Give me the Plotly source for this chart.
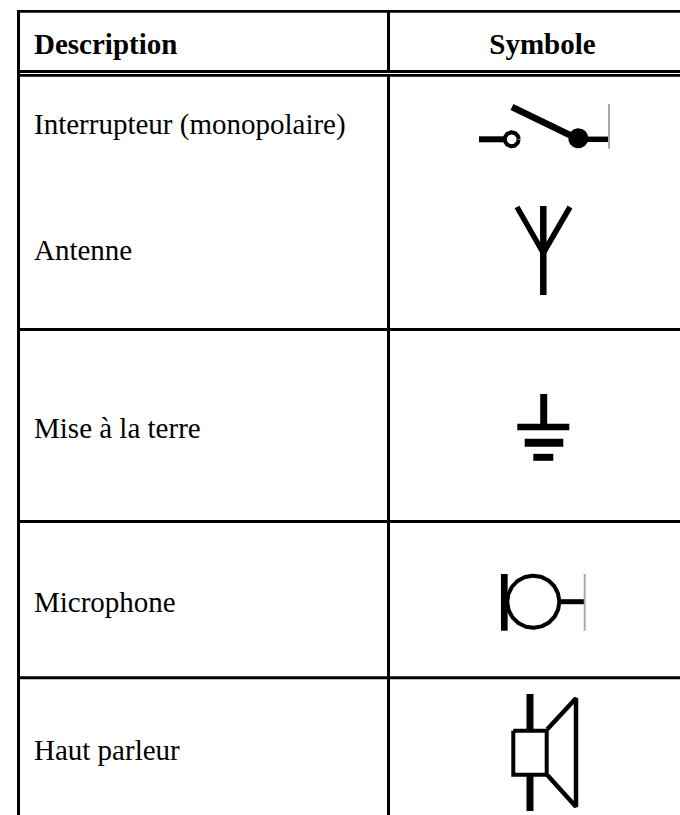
import numpy as np
import plotly.graph_objects as go

# table content
DESCRIPTIONS = ['Interrupteur (monopolaire)', 'Antenne', 'Mise à la terre', 'Microphone', 'Haut parleur']
DESCRIPTION_Y = [127, 253, 431, 605, 753]
HEADERS = ['Description', 'Symbole']
HEADER_X = [34, 542.5]
HEADER_Y = [47, 47]

# grid, in page pixels
LEFT_X = 18.5
MIDDLE_X = 388.5
RIGHT_X = 680
BOTTOM_Y = 815
TOP_Y = 11.3
HEADER_LINES_Y = [71.4, 75.4]
ROW_LINES_Y = [329.5, 521.5, 677.7]

INK = '#000000'
GREY = '#aaaaaa'
FONT = 'Liberation Serif'

fig = go.Figure()


def line(xs, ys, width, color=INK):
    fig.add_trace(go.Scatter(x=xs, y=ys, mode='lines', hoverinfo='skip',
                             line=dict(color=color, width=width)))


def circle(cx, cy, r, width, y_min=-1e9, y_max=1e9, fill=False):
    t = np.linspace(0, 2 * np.pi, 181)
    xs = cx + r * np.cos(t)
    ys = cy + r * np.sin(t)
    if fill:
        fig.add_trace(go.Scatter(x=xs, y=np.clip(ys, y_min, y_max), mode='lines', fill='toself',
                                 fillcolor=INK, hoverinfo='skip', line=dict(color=INK, width=0)))
    else:
        keep = (ys >= y_min) & (ys <= y_max)
        fig.add_trace(go.Scatter(x=np.where(keep, xs, np.nan), y=np.where(keep, ys, np.nan),
                                 mode='lines', hoverinfo='skip', line=dict(color=INK, width=width)))


# table rules
line([LEFT_X - 1.5, RIGHT_X], [TOP_Y, TOP_Y], 2.8)
line([LEFT_X, LEFT_X], [TOP_Y, BOTTOM_Y], 3)
line([MIDDLE_X, MIDDLE_X], [TOP_Y, HEADER_LINES_Y[0]], 3)
line([MIDDLE_X, MIDDLE_X], [HEADER_LINES_Y[1], BOTTOM_Y], 3)
line([LEFT_X, RIGHT_X], [HEADER_LINES_Y[0]] * 2, 3)
line([LEFT_X, RIGHT_X], [HEADER_LINES_Y[1]] * 2, 2.8)
for y in ROW_LINES_Y:
    line([LEFT_X, RIGHT_X], [y, y], 3)

# switch
line([479, 504], [139.3, 139.3], 6)
circle(511.7, 139.3, 7, 4, y_max=148.7)
line([512, 578], [107, 139], 6.5)
circle(578.3, 138.3, 10, 0, y_max=148.7, fill=True)
line([578, 609], [139.3, 139.3], 5.5)
line([609, 609], [104, 148.7], 2, GREY)

# antenna
line([543.3, 543.3], [206, 295], 6.5)
line([517, 543.3, 570], [207, 253, 207], 5.5)

# ground
line([543.7, 543.7], [394, 427], 7)
line([517.3, 569.3], [427, 427], 6.7)
line([524.7, 563.3], [442.7, 442.7], 8)
line([533.3, 553.3], [457.3, 457.3], 7)

# microphone
line([504.3, 504.3], [574, 630.7], 6.7)
circle(533.3, 601.7, 26, 4, y_min=574, y_max=630.7)
line([560, 585], [601.7, 601.7], 5)
line([584.7, 584.7], [574, 630.7], 2, GREY)

# speaker
line([530, 530], [694, 729], 7)
line([530, 530], [775, 811], 7)
line([513.3, 546.7, 546.7, 513.3, 513.3], [730.7, 730.7, 774.7, 774.7, 730.7], 4)
line([547.3, 576, 576, 547.3], [729.3, 698.3, 806.7, 775], 4.5)

fig.add_trace(go.Scatter(x=[HEADER_X[0]] * len(DESCRIPTIONS), y=DESCRIPTION_Y, mode='text',
                         text=DESCRIPTIONS, textposition='middle right', hoverinfo='skip',
                         textfont=dict(family=FONT, size=29, color=INK)))
fig.add_trace(go.Scatter(x=HEADER_X[:1], y=HEADER_Y[:1], mode='text',
                         text=['<b>' + HEADERS[0] + '</b>'], textposition='middle right', hoverinfo='skip',
                         textfont=dict(family=FONT, size=29, color=INK)))
fig.add_trace(go.Scatter(x=HEADER_X[1:], y=HEADER_Y[1:], mode='text',
                         text=['<b>' + HEADERS[1] + '</b>'], textposition='middle center', hoverinfo='skip',
                         textfont=dict(family=FONT, size=29, color=INK)))

fig.update_layout(width=680, height=815, margin=dict(l=0, r=0, t=0, b=0), showlegend=False,
                  plot_bgcolor='white', paper_bgcolor='white')
fig.update_xaxes(range=[0, 680], visible=False, fixedrange=True)
fig.update_yaxes(range=[815, 0], visible=False, fixedrange=True)
fig.write_html("out.html", config=dict(displayModeBar=False),
               post_script="document.body.style.margin='0';document.body.style.overflow='hidden';")
